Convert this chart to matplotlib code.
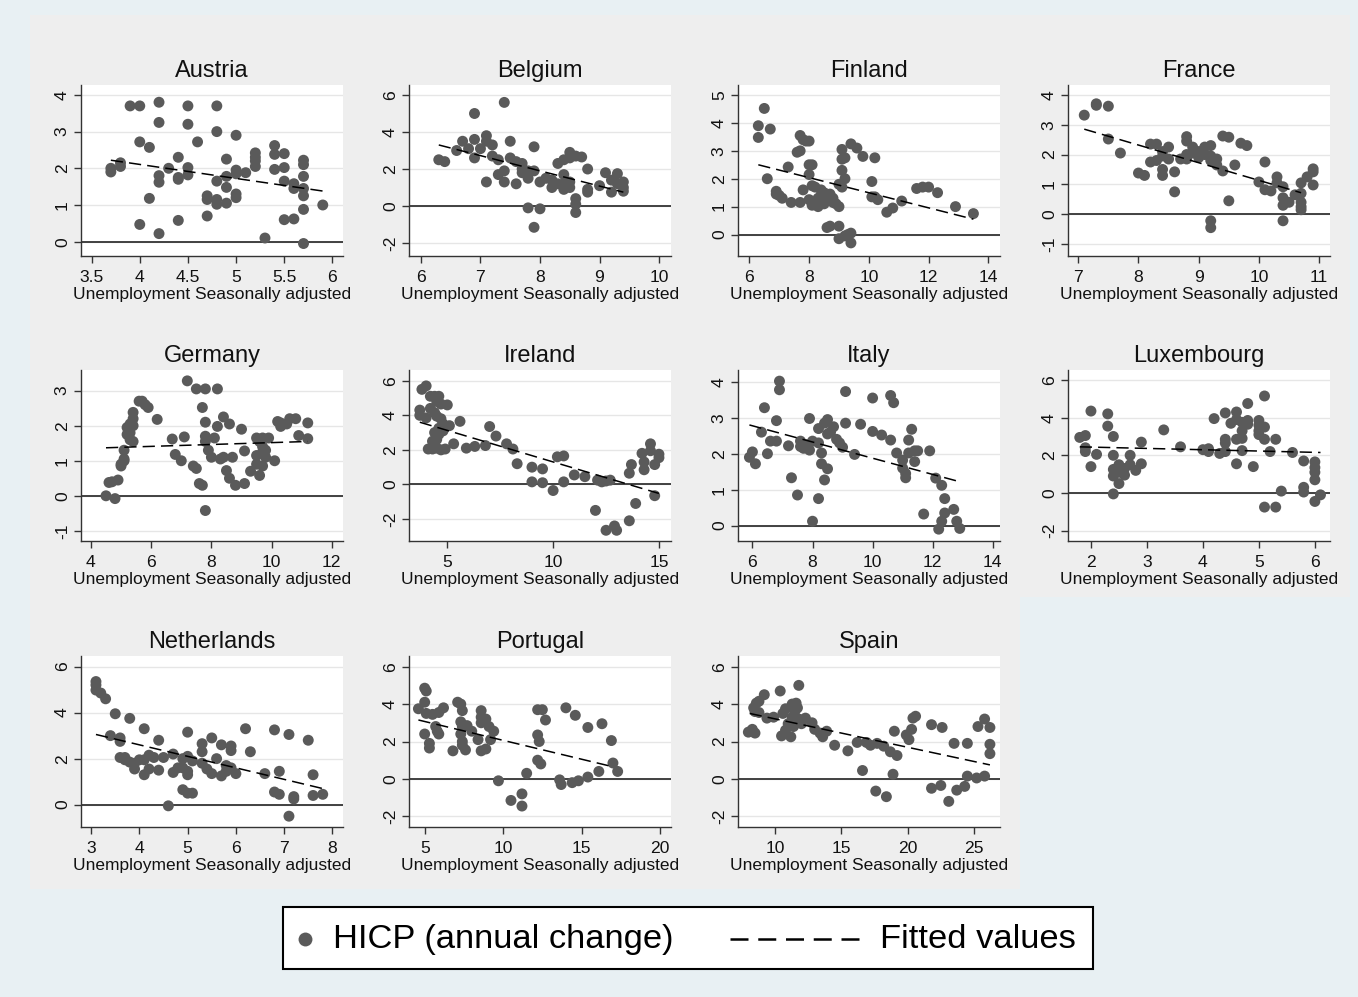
import numpy as np
import matplotlib
matplotlib.use("Agg")
import matplotlib.pyplot as plt
from matplotlib.patches import Rectangle
from matplotlib.lines import Line2D
from matplotlib.ticker import FuncFormatter

plt.rcParams['font.family'] = ['Liberation Sans', 'DejaVu Sans']

# ---------------- data ----------------
countries = ["Austria", "Belgium", "Finland", "France", "Germany", "Ireland",
             "Italy", "Luxembourg", "Netherlands", "Portugal", "Spain"]

austria_pts = [(3.7, 1.9), (3.7, 2.0), (3.8, 2.05), (3.8, 2.15), (3.9, 3.7), (4.0, 3.7),
               (4.0, 2.72), (4.0, 0.47), (4.1, 2.57), (4.1, 1.18), (4.2, 3.8), (4.2, 3.25),
               (4.2, 1.8), (4.2, 1.62), (4.2, 0.22), (4.3, 2.0), (4.4, 2.3), (4.4, 1.75),
               (4.4, 1.7), (4.4, 0.58), (4.5, 3.7), (4.5, 3.2), (4.5, 2.02), (4.5, 1.82),
               (4.6, 2.72), (4.7, 1.25), (4.7, 1.15), (4.7, 0.7), (4.8, 3.7), (4.8, 3.0),
               (4.8, 1.65), (4.8, 1.15), (4.8, 1.02), (4.9, 2.25), (4.9, 1.78), (4.9, 1.48),
               (4.9, 1.05), (5.0, 2.9), (5.0, 1.95), (5.0, 1.85), (5.0, 1.3), (5.0, 1.2),
               (5.1, 1.88), (5.2, 2.42), (5.2, 2.3), (5.2, 2.2), (5.2, 2.05), (5.3, 0.1),
               (5.4, 2.62), (5.4, 2.38), (5.4, 1.97), (5.5, 2.4), (5.5, 2.02), (5.5, 1.65),
               (5.5, 0.6), (5.6, 1.58), (5.6, 1.45), (5.6, 0.62), (5.7, 2.22), (5.7, 2.1),
               (5.7, 1.78), (5.7, 1.45), (5.7, 1.25), (5.7, 0.88), (5.7, -0.05), (5.9, 1.0)]
austria_fit = [(3.7, 2.22), (5.9, 1.38)]

belgium_pts = [(6.3, 2.5), (6.4, 2.4), (6.6, 3.0), (6.7, 3.5), (6.8, 3.1), (6.9, 5.0),
               (6.9, 3.6), (6.9, 2.6), (7.0, 3.1), (7.1, 3.8), (7.1, 3.5), (7.1, 1.3),
               (7.2, 3.3), (7.2, 2.7), (7.3, 2.5), (7.3, 1.7), (7.4, 5.6), (7.4, 1.9),
               (7.4, 1.3), (7.5, 3.5), (7.5, 2.6), (7.6, 2.4), (7.6, 1.2), (7.7, 2.3),
               (7.7, 2.0), (7.7, 1.8), (7.8, 1.9), (7.8, 1.5), (7.8, -0.1), (7.9, 3.2),
               (7.9, 1.9), (7.9, -1.15), (8.0, 1.3), (8.0, -0.15), (8.1, 1.5), (8.2, 1.4),
               (8.2, 1.0), (8.3, 2.3), (8.3, 1.2), (8.4, 2.5), (8.4, 1.7), (8.4, 1.2),
               (8.4, 0.9), (8.5, 2.9), (8.5, 2.6), (8.5, 1.3), (8.5, 1.0), (8.6, 2.7),
               (8.6, 0.4), (8.6, 0.1), (8.6, -0.35), (8.7, 2.65), (8.8, 2.0), (8.8, 0.9),
               (8.8, 0.75), (9.0, 1.1), (9.1, 1.8), (9.2, 1.4), (9.2, 0.75), (9.3, 1.75),
               (9.3, 1.2), (9.4, 1.3), (9.4, 1.0), (9.4, 0.8)]
belgium_fit = [(6.3, 3.3), (9.4, 0.75)]

finland_pts = [(6.3, 3.9), (6.3, 3.48), (6.5, 4.52), (6.6, 2.0), (6.7, 3.78), (6.9, 1.55),
               (6.9, 1.45), (7.0, 1.4), (7.1, 1.3), (7.3, 2.42), (7.4, 1.15), (7.6, 2.95),
               (7.7, 3.0), (7.7, 3.55), (7.7, 1.15), (7.8, 3.4), (7.9, 3.35), (8.0, 3.35),
               (7.8, 1.6), (8.0, 2.5), (8.1, 2.5), (8.0, 2.15), (8.0, 1.25), (8.1, 1.75),
               (8.1, 1.05), (8.2, 1.7), (8.3, 1.3), (8.3, 1.0), (8.4, 1.6), (8.4, 1.4),
               (8.4, 1.2), (8.5, 1.5), (8.5, 1.1), (8.6, 1.25), (8.6, 0.25), (8.7, 1.45),
               (8.7, 0.3), (8.8, 1.3), (8.8, 1.15), (8.9, 1.1), (9.0, 1.8), (9.0, 1.0),
               (9.0, 0.3), (9.0, -0.15), (9.1, 3.05), (9.1, 2.7), (9.1, 2.3), (9.1, 1.7),
               (9.2, 2.75), (9.2, 2.0), (9.2, -0.05), (9.3, 0.0), (9.4, 3.25), (9.4, 0.05),
               (9.4, -0.3), (9.6, 3.1), (9.8, 2.8), (10.1, 1.9), (10.1, 1.35), (10.2, 2.75),
               (10.2, 1.35), (10.3, 1.25), (10.6, 0.8), (10.8, 0.95), (11.1, 1.2), (11.6, 1.65),
               (11.8, 1.7), (12.0, 1.7), (12.3, 1.5), (12.9, 1.0), (13.5, 0.75)]
finland_fit = [(6.3, 2.5), (13.5, 0.55)]

france_pts = [(7.1, 3.32), (7.3, 3.7), (7.3, 3.65), (7.5, 3.62), (7.5, 2.52), (7.7, 2.05),
              (8.0, 1.38), (8.1, 1.3), (8.2, 2.35), (8.3, 2.35), (8.2, 1.75), (8.3, 1.8),
              (8.4, 2.1), (8.4, 1.95), (8.4, 1.5), (8.4, 1.3), (8.5, 2.25), (8.5, 1.85),
              (8.6, 1.42), (8.6, 0.75), (8.7, 1.85), (8.8, 2.6), (8.8, 2.45), (8.8, 2.0),
              (8.8, 1.85), (8.9, 2.25), (8.9, 2.05), (9.0, 2.1), (9.0, 1.9), (9.1, 2.25),
              (9.1, 2.0), (9.2, 2.3), (9.2, 1.95), (9.2, 1.8), (9.2, -0.22), (9.2, -0.45),
              (9.3, 1.85), (9.3, 1.65), (9.4, 2.62), (9.4, 1.45), (9.5, 2.58), (9.5, 0.45),
              (9.6, 1.65), (9.7, 2.38), (9.8, 2.3), (10.0, 1.08), (10.1, 1.75), (10.1, 0.82),
              (10.2, 0.78), (10.3, 1.25), (10.3, 1.05), (10.4, 0.92), (10.4, 0.55), (10.4, 0.3),
              (10.4, -0.22), (10.5, 0.4), (10.6, 0.65), (10.7, 1.05), (10.7, 0.7), (10.7, 0.4),
              (10.7, 0.25), (10.7, 0.15), (10.8, 1.25), (10.9, 1.52), (10.9, 1.42), (10.9, 0.98)]
france_fit = [(7.1, 2.85), (10.7, 0.72)]

germany_pts = [(4.5, 0.0), (4.6, 0.38), (4.7, 0.4), (4.8, -0.08), (4.9, 0.45), (5.0, 0.9),
               (5.0, 0.85), (5.1, 1.05), (5.1, 1.0), (5.1, 1.3), (5.2, 1.75), (5.2, 1.95),
               (5.3, 1.6), (5.3, 1.8), (5.3, 2.05), (5.4, 2.38), (5.4, 2.2), (5.4, 2.0),
               (5.4, 1.55), (5.6, 2.7), (5.7, 2.7), (5.8, 2.6), (5.9, 2.52), (6.2, 2.18),
               (6.7, 1.62), (6.8, 1.18), (7.0, 1.0), (7.1, 1.68), (7.2, 3.28), (7.4, 0.85),
               (7.5, 0.78), (7.5, 3.05), (7.6, 0.35), (7.7, 2.52), (7.7, 0.3), (7.8, 3.05),
               (7.8, 2.1), (7.8, 1.7), (7.8, 1.55), (7.8, -0.42), (7.9, 1.3), (8.0, 1.1),
               (8.1, 1.65), (8.2, 3.05), (8.2, 1.98), (8.3, 1.05), (8.4, 2.25), (8.4, 1.1),
               (8.5, 0.72), (8.6, 0.5), (8.6, 2.05), (8.7, 1.1), (8.8, 0.3), (9.0, 1.9),
               (9.1, 1.28), (9.1, 0.35), (9.3, 0.7), (9.5, 0.9), (9.5, 1.15), (9.5, 1.65),
               (9.6, 1.55), (9.6, 0.58), (9.7, 1.4), (9.7, 1.25), (9.7, 1.65), (9.7, 0.85),
               (9.8, 1.1), (9.8, 1.3), (9.9, 1.65), (10.1, 1.0), (10.2, 2.12), (10.3, 1.98),
               (10.3, 2.08), (10.5, 2.05), (10.6, 2.2), (10.8, 2.2), (10.9, 1.72), (11.2, 2.08),
               (11.2, 1.63)]
germany_fit = [(4.5, 1.37), (11.2, 1.55)]

ireland_pts = [(3.7, 4.3), (3.7, 4.0), (3.8, 5.5), (4.0, 5.7), (4.0, 3.85), (4.1, 2.05),
               (4.2, 5.1), (4.2, 4.4), (4.3, 2.5), (4.3, 2.05), (4.4, 5.1), (4.4, 4.15),
               (4.4, 3.0), (4.4, 2.2), (4.5, 4.8), (4.5, 3.95), (4.5, 2.6), (4.5, 2.1),
               (4.6, 5.1), (4.6, 3.25), (4.6, 2.9), (4.7, 4.65), (4.7, 3.8), (4.7, 2.0),
               (4.8, 3.5), (4.8, 3.1), (4.9, 2.05), (5.0, 4.6), (5.1, 3.4), (5.3, 2.35),
               (5.6, 3.65), (5.9, 2.1), (6.3, 2.2), (6.8, 2.25), (7.0, 3.35), (7.3, 2.8),
               (7.8, 2.35), (8.1, 2.05), (8.3, 1.2), (9.0, 1.0), (9.0, 0.15), (9.5, 0.9),
               (9.5, 0.1), (10.0, -0.35), (10.2, 1.6), (10.5, 0.15), (10.5, 1.65), (11.0, 0.55),
               (11.5, 0.45), (12.0, -1.5), (12.1, 0.25), (12.3, 0.15), (12.5, 0.2), (12.7, 0.25),
               (12.5, -2.65), (12.9, -2.4), (13.0, -2.65), (13.6, 0.65), (13.7, 1.15),
               (13.6, -2.1), (13.9, -1.1), (14.2, 1.8), (14.3, 1.3), (14.3, 0.85), (14.6, 2.35),
               (14.6, 1.95), (14.8, 1.15), (14.8, -0.65), (15.0, 1.75), (15.0, 1.55)]
ireland_fit = [(3.7, 3.6), (15.0, -0.52)]

italy_pts = [(5.9, 1.9), (6.0, 2.05), (6.1, 1.72), (6.3, 2.6), (6.4, 3.28), (6.5, 2.0),
             (6.6, 2.35), (6.8, 2.35), (6.8, 2.92), (6.9, 4.02), (6.9, 3.78), (7.2, 2.22),
             (7.3, 1.33), (7.5, 0.85), (7.6, 2.35), (7.6, 2.2), (7.7, 2.15), (7.8, 2.25),
             (7.9, 2.98), (7.9, 2.1), (8.0, 2.35), (8.0, 0.12), (8.2, 2.7), (8.2, 2.3),
             (8.2, 0.75), (8.3, 2.02), (8.3, 1.72), (8.4, 2.85), (8.4, 1.27), (8.5, 2.95),
             (8.5, 2.55), (8.5, 1.58), (8.6, 2.6), (8.7, 2.75), (8.8, 2.4), (8.9, 2.3),
             (9.0, 2.18), (9.1, 3.73), (9.1, 2.85), (9.4, 1.98), (9.6, 2.82), (10.0, 3.55),
             (10.0, 2.62), (10.3, 2.52), (10.6, 3.62), (10.7, 3.42), (10.6, 2.38), (10.8, 2.02),
             (11.0, 1.82), (11.0, 1.6), (11.1, 1.45), (11.1, 1.33), (11.2, 2.02), (11.2, 2.38),
             (11.3, 2.68), (11.4, 2.08), (11.5, 2.08), (11.4, 1.78), (11.7, 0.32), (11.9, 2.08),
             (12.1, 1.32), (12.3, 1.12), (12.4, 0.75), (12.4, 0.35), (12.2, -0.1), (12.3, 0.12),
             (12.7, 0.45), (12.8, 0.12), (12.9, -0.08)]
italy_fit = [(5.9, 2.8), (12.9, 1.22)]

luxembourg_pts = [(1.8, 2.95), (1.9, 3.05), (1.9, 2.2), (1.9, 2.4), (2.0, 4.35), (2.0, 1.4),
                  (2.1, 2.05), (2.3, 4.2), (2.3, 3.55), (2.4, 3.0), (2.4, 2.0), (2.4, 1.25),
                  (2.4, 0.9), (2.4, -0.05), (2.5, 1.1), (2.5, 1.5), (2.5, 0.5), (2.6, 1.3),
                  (2.6, 0.95), (2.7, 2.0), (2.7, 1.5), (2.8, 1.2), (2.9, 2.7), (2.9, 1.55),
                  (3.3, 3.35), (3.6, 2.45), (4.0, 2.3), (4.1, 2.2), (4.1, 2.35), (4.2, 3.95),
                  (4.3, 2.1), (4.4, 4.25), (4.4, 2.85), (4.4, 2.65), (4.4, 2.2), (4.5, 3.7),
                  (4.6, 4.3), (4.6, 3.9), (4.6, 2.85), (4.6, 1.55), (4.7, 3.75), (4.7, 3.3),
                  (4.7, 2.9), (4.7, 2.25), (4.8, 4.75), (4.8, 3.85), (4.8, 3.65), (4.9, 1.4),
                  (5.0, 3.85), (5.0, 3.6), (5.0, 3.3), (5.0, 3.1), (5.1, 5.15), (5.1, 3.5),
                  (5.1, 2.85), (5.1, -0.75), (5.2, 2.2), (5.3, 2.85), (5.3, -0.75), (5.4, 0.1),
                  (5.6, 2.15), (5.8, 1.7), (5.8, 0.3), (5.8, 0.05), (6.0, 1.65), (6.0, 1.35),
                  (6.0, 1.1), (6.0, 0.7), (6.0, -0.45), (6.1, -0.1)]
luxembourg_fit = [(1.8, 2.45), (6.1, 2.15)]

netherlands_pts = [(3.1, 5.35), (3.1, 5.2), (3.1, 4.98), (3.2, 4.85), (3.3, 4.6), (3.4, 3.0),
                   (3.5, 3.95), (3.6, 2.9), (3.6, 2.75), (3.6, 2.05), (3.7, 2.05), (3.7, 1.95),
                   (3.8, 3.75), (3.8, 1.85), (3.9, 1.55), (3.9, 1.8), (4.0, 1.95), (4.1, 3.3),
                   (4.1, 1.3), (4.1, 1.95), (4.2, 1.55), (4.2, 2.15), (4.3, 2.05), (4.4, 2.8),
                   (4.4, 1.5), (4.5, 2.05), (4.6, -0.05), (4.7, 2.2), (4.7, 1.4), (4.8, 1.6),
                   (4.9, 2.0), (4.9, 1.6), (4.9, 0.65), (5.0, 3.15), (5.0, 2.1), (5.0, 1.45),
                   (5.0, 1.3), (5.0, 0.5), (5.1, 1.9), (5.1, 0.5), (5.3, 2.65), (5.3, 2.3),
                   (5.3, 1.8), (5.4, 1.55), (5.5, 2.9), (5.5, 1.35), (5.6, 2.0), (5.7, 2.6),
                   (5.7, 1.25), (5.8, 1.7), (5.8, 1.45), (5.9, 2.55), (5.9, 2.35), (6.0, 1.35),
                   (5.9, 1.6), (6.2, 3.3), (6.3, 2.3), (6.6, 1.35), (6.8, 3.25), (6.8, 0.55),
                   (6.9, 1.45), (6.9, 0.45), (7.1, 3.05), (7.1, -0.5), (7.2, 0.35), (7.2, 0.25),
                   (7.5, 2.8), (7.6, 1.3), (7.6, 0.4), (7.8, 0.45)]
netherlands_fit = [(3.1, 3.05), (7.8, 0.7)]

portugal_pts = [(4.6, 3.75), (5.0, 4.85), (5.1, 4.7), (5.0, 4.1), (5.0, 2.4), (5.1, 3.5),
                (5.3, 1.9), (5.3, 1.65), (5.5, 3.45), (5.7, 2.8), (5.8, 2.55), (5.9, 2.4),
                (5.9, 3.55), (6.2, 3.8), (6.8, 1.5), (7.1, 4.1), (7.3, 4.0), (7.3, 3.05),
                (7.4, 3.65), (7.4, 2.8), (7.3, 2.4), (7.4, 2.0), (7.4, 1.8), (7.6, 1.55),
                (7.7, 2.85), (8.0, 2.55), (8.4, 2.1), (8.6, 3.65), (8.6, 3.3), (8.6, 3.0),
                (8.6, 1.5), (8.9, 3.2), (8.9, 1.6), (9.1, 2.8), (9.2, 2.1), (9.4, 2.55),
                (9.7, -0.1), (10.5, -1.15), (11.2, -0.8), (11.2, -1.45), (11.5, 0.3),
                (12.2, 3.7), (12.5, 3.7), (12.7, 3.15), (12.2, 2.35), (12.3, 2.0), (12.2, 1.0),
                (12.4, 0.8), (13.6, -0.05), (13.7, -0.3), (14.0, 3.8), (14.4, -0.2), (14.6, 3.4),
                (14.8, -0.1), (15.4, 0.1), (15.4, 2.75), (16.1, 0.4), (16.3, 2.95), (16.9, 2.05),
                (17.0, 0.85), (17.3, 0.4)]
portugal_fit = [(4.6, 3.15), (17.0, 0.65)]

spain_pts = [(8.0, 2.5), (8.3, 2.65), (8.5, 2.45), (8.4, 3.8), (8.5, 3.6), (8.6, 4.05),
             (8.8, 4.15), (8.8, 3.55), (9.2, 4.5), (9.4, 3.25), (9.9, 3.3), (10.4, 4.7),
             (10.5, 2.3), (10.6, 3.5), (10.8, 3.75), (10.8, 2.6), (11.0, 2.95), (11.2, 2.25),
             (11.3, 3.3), (11.3, 4.0), (11.5, 3.6), (11.4, 2.8), (11.6, 4.05), (11.7, 3.8),
             (11.8, 3.2), (11.8, 5.0), (12.0, 2.95), (12.3, 3.25), (12.8, 3.0), (13.0, 2.65),
             (13.4, 2.45), (13.6, 2.25), (13.9, 2.55), (14.5, 1.8), (15.5, 1.5), (16.2, 1.95),
             (16.6, 0.45), (16.9, 1.95), (17.2, 1.8), (17.7, 1.9), (17.6, -0.65), (18.2, 1.75),
             (18.4, -0.95), (18.7, 1.45), (18.9, 0.25), (19.0, 2.55), (19.2, 1.25), (19.9, 2.35),
             (20.1, 2.1), (20.3, 2.65), (20.4, 3.25), (20.6, 3.35), (21.8, 2.9), (21.8, -0.5),
             (22.5, -0.35), (22.6, 2.75), (23.1, -1.2), (23.5, 1.9), (23.7, -0.6), (24.3, -0.4),
             (24.5, 1.9), (24.5, 0.15), (25.2, 0.05), (25.3, 2.8), (25.8, 3.2), (25.8, 0.15),
             (26.2, 2.75), (26.2, 1.85), (26.2, 1.35)]
spain_fit = [(8.1, 3.5), (26.2, 0.75)]

# axis ticks per panel
x_ticks = {
    "Austria": [3.5, 4, 4.5, 5, 5.5, 6], "Belgium": [6, 7, 8, 9, 10],
    "Finland": [6, 8, 10, 12, 14], "France": [7, 8, 9, 10, 11],
    "Germany": [4, 6, 8, 10, 12], "Ireland": [5, 10, 15],
    "Italy": [6, 8, 10, 12, 14], "Luxembourg": [2, 3, 4, 5, 6],
    "Netherlands": [3, 4, 5, 6, 7, 8], "Portugal": [5, 10, 15, 20],
    "Spain": [10, 15, 20, 25]}
y_ticks = {
    "Austria": [0, 1, 2, 3, 4], "Belgium": [-2, 0, 2, 4, 6],
    "Finland": [0, 1, 2, 3, 4, 5], "France": [-1, 0, 1, 2, 3, 4],
    "Germany": [-1, 0, 1, 2, 3], "Ireland": [-2, 0, 2, 4, 6],
    "Italy": [0, 1, 2, 3, 4], "Luxembourg": [-2, 0, 2, 4, 6],
    "Netherlands": [0, 2, 4, 6], "Portugal": [-2, 0, 2, 4, 6],
    "Spain": [-2, 0, 2, 4, 6]}

x_label = "Unemployment Seasonally adjusted"
legend_labels = ["HICP (annual change)", "Fitted values"]

# ---------------- layout / style ----------------
W, H = 1358, 997
x_lims = {"Austria": (3.39, 6.11), "Belgium": (5.80, 10.20), "Finland": (5.62, 14.39),
          "France": (6.83, 11.18), "Germany": (3.67, 12.37), "Ireland": (3.19, 15.57),
          "Italy": (5.52, 14.24), "Luxembourg": (1.59, 6.27), "Netherlands": (2.79, 8.22),
          "Portugal": (4.0, 20.7), "Spain": (7.22, 26.96)}
y_lims = {"Austria": (-0.39, 4.27), "Belgium": (-2.70, 6.54), "Finland": (-0.77, 5.36),
          "France": (-1.40, 4.33), "Germany": (-1.29, 3.59), "Ireland": (-3.27, 6.62),
          "Italy": (-0.43, 4.33), "Luxembourg": (-2.55, 6.53), "Netherlands": (-0.97, 6.46),
          "Portugal": (-2.57, 6.57), "Spain": (-2.57, 6.57)}

pts = {"Austria": austria_pts, "Belgium": belgium_pts, "Finland": finland_pts,
       "France": france_pts, "Germany": germany_pts, "Ireland": ireland_pts,
       "Italy": italy_pts, "Luxembourg": luxembourg_pts, "Netherlands": netherlands_pts,
       "Portugal": portugal_pts, "Spain": spain_pts}
fits = {"Austria": austria_fit, "Belgium": belgium_fit, "Finland": finland_fit,
        "France": france_fit, "Germany": germany_fit, "Ireland": ireland_fit,
        "Italy": italy_fit, "Luxembourg": luxembourg_fit, "Netherlands": netherlands_fit,
        "Portugal": portugal_fit, "Spain": spain_fit}

OUTER = '#E8F0F3'
CELL = '#EEEEEE'
DOT = '#5A5A5A'
AXC = '#333333'

fig = plt.figure(figsize=(W / 100, H / 100), dpi=100, facecolor=OUTER)

col_edges = [30, 360, 690, 1020, 1350]
row_edges = [15, 306, 597, 889]
ax_left = [81, 409, 738, 1068]
ax_top = [85, 370, 656]
ax_w, ax_h = 262, 171

def fx(px):
    return px / W

def fy(py):
    return 1 - py / H

fmt = FuncFormatter(lambda v, p: f"{v:g}")

for i, name in enumerate(countries):
    r, c = divmod(i, 4)
    # grey graph region for this cell
    fig.add_artist(Rectangle((fx(col_edges[c]), fy(row_edges[r + 1])),
                             (col_edges[c + 1] - col_edges[c]) / W,
                             (row_edges[r + 1] - row_edges[r]) / H,
                             transform=fig.transFigure, facecolor=CELL,
                             edgecolor='none', zorder=-10))
    ax = fig.add_axes([fx(ax_left[c]), fy(ax_top[r] + ax_h), ax_w / W, ax_h / H])
    ax.set_facecolor('white')
    arr = np.array(pts[name])
    ax.scatter(arr[:, 0], arr[:, 1], s=62, color=DOT, edgecolors='none', zorder=3)
    f = np.array(fits[name])
    ax.plot(f[:, 0], f[:, 1], color='black', lw=1.1, dashes=(8, 4), zorder=4)
    ax.axhline(0, color=AXC, lw=1.3, zorder=2)
    ax.set_xlim(*x_lims[name])
    ax.set_ylim(*y_lims[name])
    ax.set_xticks(x_ticks[name])
    ax.set_yticks(y_ticks[name])
    ax.xaxis.set_major_formatter(fmt)
    ax.yaxis.set_major_formatter(fmt)
    ax.yaxis.grid(True, color='#E6E6E6', lw=1.0)
    ax.set_axisbelow(True)
    for s in ['top', 'right']:
        ax.spines[s].set_visible(False)
    for s in ['left', 'bottom']:
        ax.spines[s].set_color(AXC)
        ax.spines[s].set_linewidth(1.0)
    ax.tick_params(axis='both', direction='out', length=5, width=1, color=AXC,
                   labelsize=12.6, labelcolor='#111111')
    ax.tick_params(axis='x', pad=5)
    ax.tick_params(axis='y', pad=3)
    for lab in ax.get_yticklabels():
        lab.set_rotation(90)
        lab.set_va('center')
    ax.set_xlabel(x_label, fontsize=12.5, labelpad=1.5, color='#111111')
    ax.set_title(name, fontsize=17, pad=6, color='#111111')

# ---------------- legend ----------------
lx0, lx1, ly0, ly1 = 283, 1093, 907, 969
fig.add_artist(Rectangle((fx(lx0), fy(ly1)), (lx1 - lx0) / W, (ly1 - ly0) / H,
                         transform=fig.transFigure, facecolor='white',
                         edgecolor='black', lw=1.5, zorder=5))
ly = fy(939)
fig.add_artist(Line2D([fx(305)], [ly], marker='o', markersize=10, color=DOT,
                      markeredgecolor='none', linestyle='none',
                      transform=fig.transFigure, zorder=6))
fig.text(fx(333), ly, legend_labels[0], fontsize=24.8, va='center', ha='left', zorder=6)
fig.add_artist(Line2D([fx(730), fx(860)], [ly, ly], color='black', lw=1.8,
                      dashes=(7.2, 3.9), transform=fig.transFigure, zorder=6))
fig.text(fx(880), ly, legend_labels[1], fontsize=24.8, va='center', ha='left', zorder=6)

fig.savefig("out.png", dpi=100, facecolor=OUTER)
